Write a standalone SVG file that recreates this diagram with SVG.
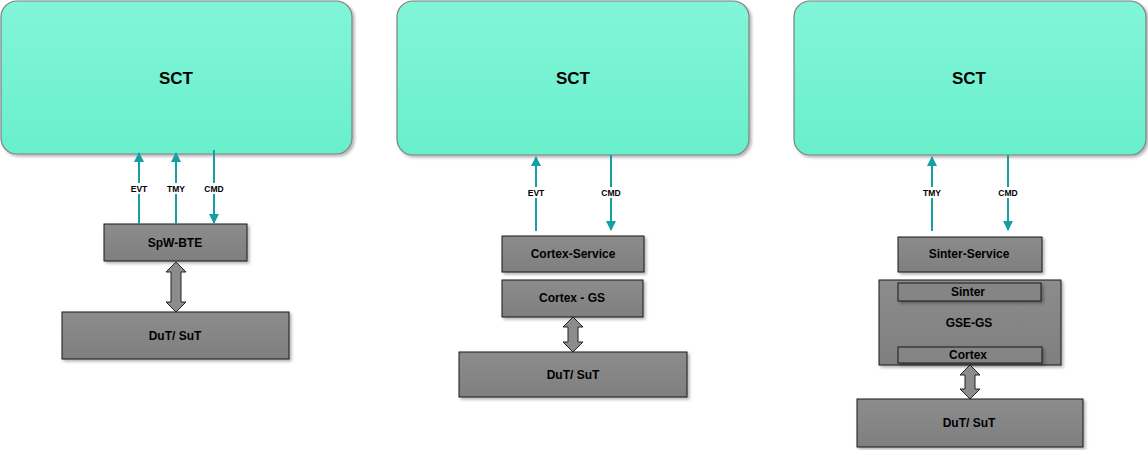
<svg xmlns="http://www.w3.org/2000/svg" width="1148" height="450" viewBox="0 0 1148 450">
<style>
.sct{fill:url(#gSct);stroke:#7f7f7f;stroke-width:1.2}
.box{fill:url(#gBox);stroke:#1a1a1a;stroke-width:1}
.inner{fill:#858585;stroke:#1a1a1a;stroke-width:1}
.t{font-family:"Liberation Sans",Arial,sans-serif;font-weight:bold;fill:#000;text-anchor:middle;dominant-baseline:central}
.big{font-size:17px}
.mid{font-size:12px}
.sm{font-size:8.5px}
.ln{stroke:#14a0a0;stroke-width:2;fill:none}
.lbg{fill:#fff}
.dbl{fill:#8c8c8c;stroke:#222;stroke-width:1}
</style>
<defs>
<linearGradient id="gSct" x1="0" y1="0" x2="0" y2="1"><stop offset="0" stop-color="#82f5d8"/><stop offset="1" stop-color="#69efcb"/></linearGradient>
<linearGradient id="gBox" x1="0" y1="0" x2="0" y2="1"><stop offset="0" stop-color="#8c8c8c"/><stop offset="1" stop-color="#7f7f7f"/></linearGradient>
<filter id="sh" x="-10%" y="-10%" width="130%" height="140%"><feDropShadow dx="2" dy="2" stdDeviation="1.5" flood-color="#000" flood-opacity="0.3"/></filter>
<marker id="ah" viewBox="0 0 10 10" refX="9" refY="5" markerWidth="5" markerHeight="5" orient="auto" markerUnits="strokeWidth"><path d="M0,0 L10,5 L0,10 z" fill="#14a0a0"/></marker>
</defs>

<g id="sct1"><rect class="sct" x="1" y="1" width="351" height="153" rx="16" filter="url(#sh)"/><text class="t big" x="176" y="78">SCT</text></g>
<g id="sct2"><rect class="sct" x="397" y="1" width="352" height="154" rx="16" filter="url(#sh)"/><text class="t big" x="573" y="78">SCT</text></g>
<g id="sct3"><rect class="sct" x="794" y="1" width="352" height="154" rx="16" filter="url(#sh)"/><text class="t big" x="969" y="78">SCT</text></g>

<g id="spw"><rect class="box" x="104" y="224" width="143" height="37" filter="url(#sh)"/><text class="t mid" x="175" y="243">SpW-BTE</text></g>
<g id="dut1"><rect class="box" x="62" y="312" width="227" height="47" filter="url(#sh)"/><text class="t mid" x="175" y="336">DuT/ SuT</text></g>

<g id="cortexService"><rect class="box" x="502" y="236" width="142" height="36" filter="url(#sh)"/><text class="t mid" x="573" y="254">Cortex-Service</text></g>
<g id="cortexGS"><rect class="box" x="502" y="280" width="141" height="37" filter="url(#sh)"/><text class="t mid" x="572" y="298">Cortex - GS</text></g>
<g id="dut2"><rect class="box" x="459" y="352" width="228" height="45" filter="url(#sh)"/><text class="t mid" x="573" y="375">DuT/ SuT</text></g>

<g id="sinterService"><rect class="box" x="898" y="237" width="144" height="35" filter="url(#sh)"/><text class="t mid" x="969" y="254">Sinter-Service</text></g>
<g id="gseGS"><rect class="box" x="879" y="280" width="182" height="85" filter="url(#sh)"/><text class="t mid" x="969" y="323">GSE-GS</text>
<g id="sinter"><rect class="inner" x="898" y="283" width="143" height="18" filter="url(#sh)"/><text class="t mid" x="968" y="292">Sinter</text></g>
<g id="cortex"><rect class="inner" x="898" y="347" width="144" height="16" filter="url(#sh)"/><text class="t mid" x="968" y="355">Cortex</text></g>
</g>
<g id="dut3"><rect class="box" x="857" y="399" width="226" height="48" filter="url(#sh)"/><text class="t mid" x="969" y="423">DuT/ SuT</text></g>

<g id="connectors">
<line class="ln" x1="139" y1="224" x2="139" y2="153" marker-end="url(#ah)"/>
<line class="ln" x1="176" y1="224" x2="176" y2="153" marker-end="url(#ah)"/>
<line class="ln" x1="214" y1="150" x2="214" y2="223" marker-end="url(#ah)"/>
<rect class="lbg" x="128" y="183" width="22" height="11"/><text class="t sm" x="139" y="188.5">EVT</text>
<rect class="lbg" x="164" y="183" width="24" height="11"/><text class="t sm" x="176" y="188.5">TMY</text>
<rect class="lbg" x="202" y="183" width="24" height="11"/><text class="t sm" x="214" y="188.5">CMD</text>

<line class="ln" x1="536" y1="231" x2="536" y2="157" marker-end="url(#ah)"/>
<line class="ln" x1="611" y1="155" x2="611" y2="230" marker-end="url(#ah)"/>
<rect class="lbg" x="525" y="187" width="22" height="11"/><text class="t sm" x="536" y="192.5">EVT</text>
<rect class="lbg" x="599" y="187" width="24" height="11"/><text class="t sm" x="611" y="192.5">CMD</text>

<line class="ln" x1="932" y1="231" x2="932" y2="157" marker-end="url(#ah)"/>
<line class="ln" x1="1008" y1="155" x2="1008" y2="230" marker-end="url(#ah)"/>
<rect class="lbg" x="920" y="187" width="24" height="11"/><text class="t sm" x="932" y="192.5">TMY</text>
<rect class="lbg" x="996" y="187" width="24" height="11"/><text class="t sm" x="1008" y="192.5">CMD</text>

<path class="dbl" d="M176,262 L186,272 L181,272 L181,302 L186,302 L176,312 L166,302 L171,302 L171,272 L166,272 Z"/>
<path class="dbl" d="M573,317 L583,327 L578,327 L578,342 L583,342 L573,352 L563,342 L568,342 L568,327 L563,327 Z"/>
<path class="dbl" d="M970,365 L980,375 L975,375 L975,389 L980,389 L970,399 L960,389 L965,389 L965,375 L960,375 Z"/>
</g>
</svg>
